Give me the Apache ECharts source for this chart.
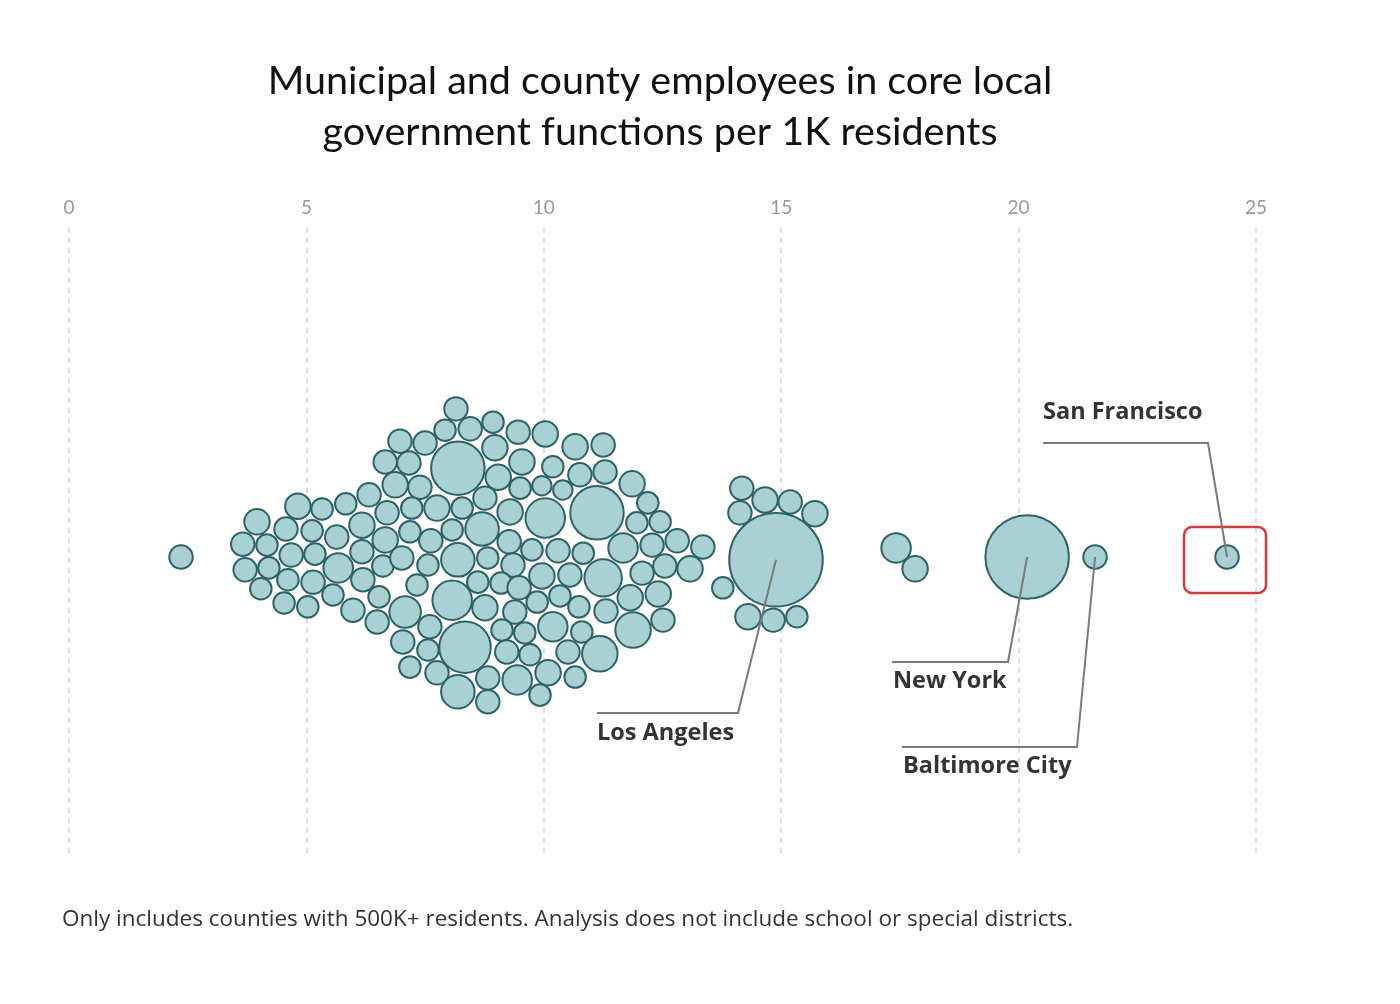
<!DOCTYPE html>
<html><head><meta charset="utf-8">
<script src="https://cdn.jsdelivr.net/npm/echarts@6/dist/echarts.min.js"></script>
<style>html,body{margin:0;padding:0;background:#fff}#c{width:1400px;height:1004px}</style>
</head><body><div id="c"></div>
<script>
// Employees per 1K residents (x), beeswarm offset (same units), population in thousands
const employeesPer1K = [
 2.36,3.96,3.66,3.71,4.17,4.21,4.04,4.57,4.68,4.61,4.53,4.82,5.12,5.18,5.14,5.03,5.33,5.64,5.67,5.56,
 5.83,5.98,6.17,6.32,6.17,6.19,6.53,6.49,6.70,6.66,6.61,8.15,7.92,8.45,8.93,9.46,6.97,7.50,8.19,8.97,
 9.54,10.03,6.66,7.16,6.87,7.39,9.04,9.50,7.22,7.75,8.28,8.76,9.29,7.18,7.62,8.07,8.70,9.27,9.75,7.01,
 7.56,8.19,8.82,9.35,7.33,8.07,8.61,9.10,9.48,8.76,9.39,7.08,7.60,8.34,7.56,7.18,7.75,8.19,8.82,8.82,
 9.12,9.60,9.22,9.44,9.92,7.03,10.03,10.66,11.25,10.19,10.76,11.29,11.86,9.96,10.40,11.12,12.19,11.96,12.45,11.67,
 12.28,12.81,13.35,10.30,10.83,9.96,10.55,11.25,12.07,12.55,13.08,13.77,12.41,11.82,10.74,10.34,9.86,11.88,12.51,10.19,
 10.80,11.18,9.71,10.51,10.09,10.66,11.31,14.89,14.17,14.66,15.19,15.71,14.13,14.30,14.83,15.33,17.42,17.82,20.18,21.61,
 24.39
];
const swarmOffset = [
 0.00,0.74,0.27,-0.27,0.25,-0.23,-0.67,0.59,0.04,-0.48,-0.97,1.07,0.55,0.06,-0.53,-1.05,1.01,0.42,-0.23,-0.80,
 1.12,-1.12,0.67,1.31,0.11,-0.48,-0.84,-1.37,0.93,0.36,-0.19,3.12,2.67,2.70,2.84,2.63,2.44,2.40,1.87,2.30,
 2.00,2.59,2.00,1.98,1.52,1.47,1.68,1.45,1.03,1.03,1.03,1.24,0.95,0.53,0.34,0.57,0.59,0.32,0.15,-0.02,
 -0.17,-0.06,-0.02,-0.17,-0.59,-0.91,-0.53,-0.55,-0.65,-1.07,-1.16,-1.16,-1.47,-1.90,-1.96,-2.32,-2.44,-2.84,-3.05,-2.55,
 -1.54,-1.60,-2.00,-2.59,-2.91,-1.79,0.82,2.32,2.36,1.90,1.73,1.79,1.54,1.50,1.41,0.93,1.14,0.72,0.74,0.19,
 0.25,0.34,0.21,0.13,0.08,-0.40,-0.38,-0.44,-0.34,-0.19,-0.25,-0.65,-0.78,-0.86,-1.05,-0.82,-0.95,-1.54,-1.33,-1.47,
 -1.58,-2.04,-2.06,-2.00,-2.44,-2.53,-1.14,-0.06,1.45,1.20,1.16,0.91,0.93,-1.26,-1.33,-1.26,0.19,-0.25,0.00,0.00,
 0.00
];
const populationK = [
 650,765,650,650,550,550,550,650,650,550,550,765,550,550,650,550,550,650,1020,550,
 550,650,765,650,650,650,550,650,650,765,550,650,550,650,550,650,650,650,3300,765,
 765,765,650,650,765,650,765,550,550,765,550,650,765,550,650,550,1310,650,550,650,
 550,1310,550,650,550,1810,550,550,650,765,650,1160,650,3060,550,550,650,1310,650,650,
 550,550,650,1020,550,650,1810,765,650,550,650,650,765,450,450,3300,550,550,550,1020,
 650,650,650,650,550,765,650,1630,650,650,765,550,765,765,550,550,550,1470,650,1020,
 550,1470,550,650,765,550,650,10000,650,765,650,765,650,765,650,550,1020,765,7990,650,
 650
];
const labelNames = ['Los Angeles', 'New York', 'Baltimore City', 'San Francisco'];
const labelIndex = [127, 138, 139, 140];
const xTicks = [0, 5, 10, 15, 20, 25];

const chart = echarts.init(document.getElementById('c'));
const seriesData = employeesPer1K.map((v, i) => [v, swarmOffset[i], populationK[i]]);

chart.setOption({
  animation: false,
  title: [{
    text: 'Municipal and county employees in core local\ngovernment functions per 1K residents',
    left: 655, top: 51, textAlign: 'center',
    textStyle: {fontFamily: 'Lato', fontSize: 39.5, fontWeight: 'normal', color: '#111', lineHeight: 51}
  }, {
    text: 'Only includes counties with 500K+ residents. Analysis does not include school or special districts.',
    left: 57, top: 903,
    textStyle: {fontFamily: 'Open Sans', fontSize: 22.5, fontWeight: 'normal', color: '#333'}
  }],
  grid: {left: 69, right: 144, top: 228, bottom: 147},
  xAxis: {
    type: 'value', position: 'top', min: xTicks[0], max: xTicks[xTicks.length - 1], interval: 5,
    axisLine: {show: false}, axisTick: {show: false},
    axisLabel: {color: '#999', fontSize: 19, fontFamily: 'Lato', margin: 11},
    splitLine: {show: true, lineStyle: {type: [5, 5], color: '#cfcfcf', width: 1.5}}
  },
  yAxis: {type: 'value', min: -6.32, max: 6.93, show: false, splitLine: {show: false}},
  series: [{
    type: 'scatter',
    data: seriesData,
    symbol: 'circle',
    symbolSize: d => 0.94 * Math.sqrt(d[2]) - 0.5,
    itemStyle: {color: '#a9d0d3', borderColor: '#2e6266', borderWidth: 2, opacity: 1},
    emphasis: {disabled: true},
    z: 2
  }]
});

// annotation layout (pixels): label text anchor and elbow of the leader line
const labelLayout = [
  {tx: 597, ty: 733, ex0: 597, ex1: 738, ey: 713},
  {tx: 893, ty: 681, ex0: 892, ex1: 1008, ey: 662},
  {tx: 903, ty: 766, ex0: 902, ex1: 1077, ey: 747},
  {tx: 1043, ty: 412, ex0: 1043, ex1: 1208, ey: 443}
];
const graphics = [];
labelNames.forEach((name, k) => {
  const i = labelIndex[k];
  const p = chart.convertToPixel({seriesIndex: 0}, [employeesPer1K[i], swarmOffset[i]]);
  const L = labelLayout[k];
  graphics.push({
    type: 'polyline', z: 10,
    shape: {points: [[L.ex0, L.ey], [L.ex1, L.ey], [p[0], p[1]]]},
    style: {stroke: '#7a7a7a', lineWidth: 2, fill: null}
  });
  graphics.push({
    type: 'text', z: 10, x: L.tx, y: L.ty,
    style: {text: name, fill: '#333', font: 'bold 23.5px "Open Sans"', textVerticalAlign: 'middle', textAlign: 'left'}
  });
  if (name === 'San Francisco') {
    graphics.push({
      type: 'rect', z: 9,
      shape: {x: p[0] - 43, y: p[1] - 30, width: 82, height: 66, r: 8},
      style: {stroke: '#d43a3a', lineWidth: 2.5, fill: null}
    });
  }
});
chart.setOption({graphic: graphics});
</script>
</body></html>
